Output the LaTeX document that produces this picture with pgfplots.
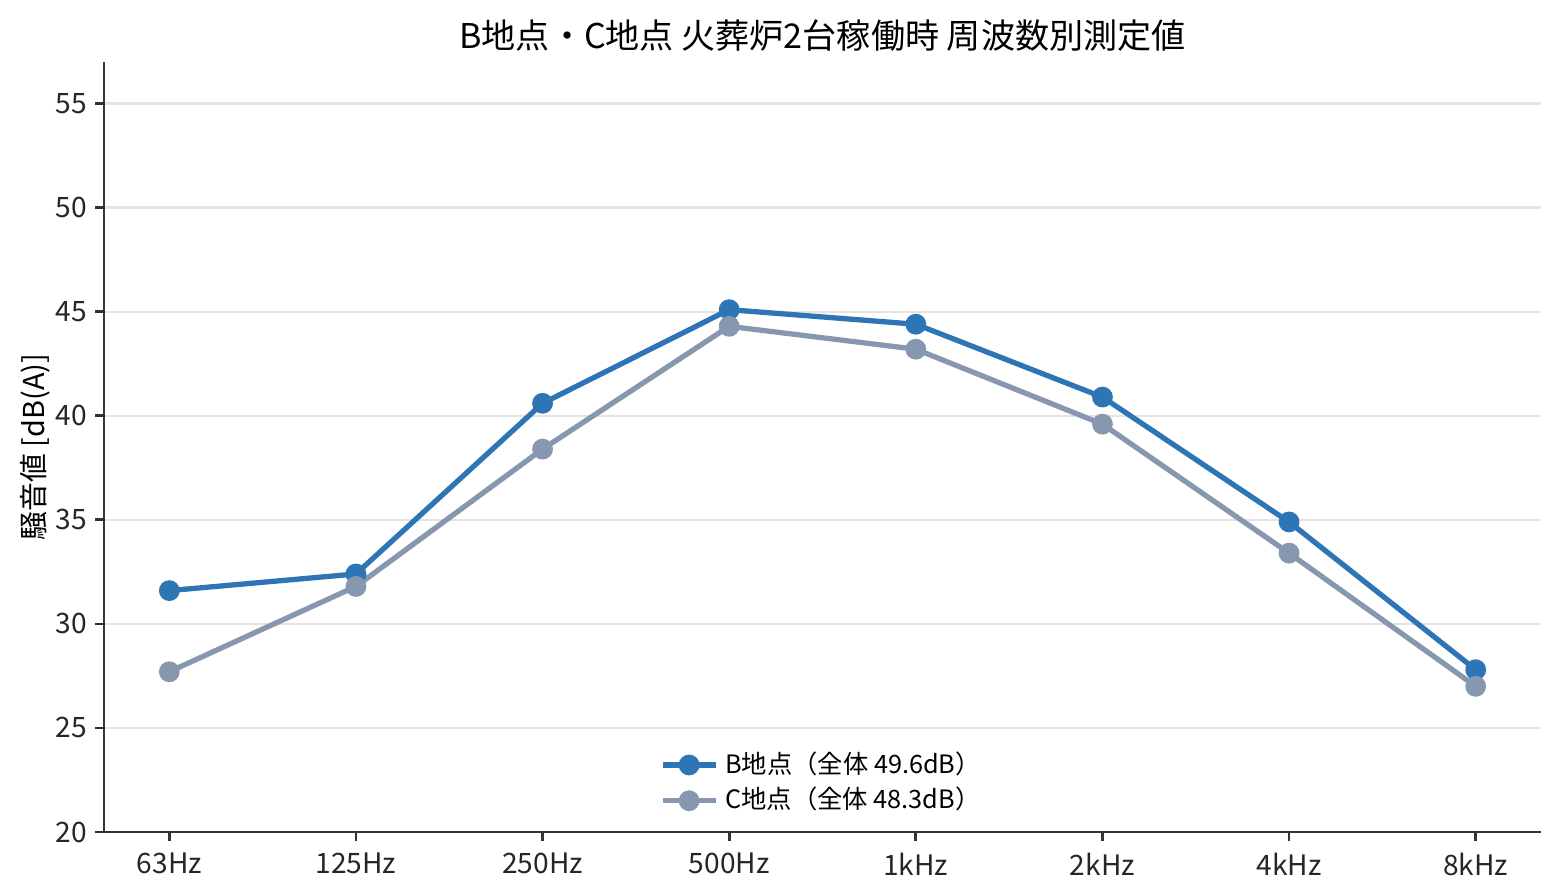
\documentclass[border=0pt]{standalone}
\usepackage{pgfplots}
\pgfplotsset{compat=1.18}
\usepackage{fontspec}
\setmainfont{Noto Sans CJK JP}
\definecolor{cB}{HTML}{2E75B6}
\definecolor{cC}{HTML}{8797B0}
\definecolor{gridc}{HTML}{E3E3E3}
\definecolor{axc}{HTML}{333333}
\begin{document}
\begin{tikzpicture}
\useasboundingbox (-10.4mm,-6.2mm) rectangle (145.6mm,83.2mm);
\begin{axis}[
  scale only axis,
  width=143.7mm, height=77mm,
  at={(0,0)}, anchor=south west,
  xmin=-0.35, xmax=7.35,
  ymin=20, ymax=57,
  xtick={0,1,2,3,4,5,6,7},
  xticklabels={63Hz,125Hz,250Hz,500Hz,1kHz,2kHz,4kHz,8kHz},
  ytick={20,25,30,35,40,45,50,55},
  axis x line*=bottom, axis y line*=left,
  axis line style={axc, line width=0.8pt, -},
  tick align=outside,
  major tick length=0.85mm,
  tick style={axc, line width=0.8pt},
  ymajorgrids,
  grid style={gridc, line width=0.7pt},
  /pgf/number format/assume math mode=true,
  ticklabel style={font=\fontsize{8}{9}\selectfont, text=black!85},
  yticklabel style={xshift=0.4mm},
  title={B地点・C地点 火葬炉2台稼働時 周波数別測定値},
  title style={at={(axis description cs:0.5,1)}, anchor=center, yshift=0.5mm, font=\fontsize{9.7}{11}\selectfont},
  ylabel={騒音値 [dB(A)]},
  ylabel style={at={(axis description cs:-0.048,0.5)}, anchor=center, font=\fontsize{8.2}{10}\selectfont},
  legend style={at={(axis description cs:0.501,0.004)}, anchor=south, draw=none, fill=none, font=\fontsize{7.2}{8.5}\selectfont, row sep=-1.5pt, legend cell align=left},
  legend image code/.code={\draw[mark repeat=2,mark phase=2] plot coordinates {(0cm,0cm)(0.265cm,0cm)(0.53cm,0cm)};},
]
\addplot[cB, line width=1.5pt, mark=*, mark size=2.2pt, mark options={solid, fill=cB, draw=cB}] coordinates {
(0,31.6) (1,32.4) (2,40.6) (3,45.1) (4,44.4) (5,40.9) (6,34.9) (7,27.8)};
\addlegendentry{B地点（全体 49.6dB）}
\addplot[cC, line width=1.5pt, mark=*, mark size=2.2pt, mark options={solid, fill=cC, draw=cC}] coordinates {
(0,27.7) (1,31.8) (2,38.4) (3,44.3) (4,43.2) (5,39.6) (6,33.4) (7,27.0)};
\addlegendentry{C地点（全体 48.3dB）}
\end{axis}
\end{tikzpicture}
\end{document}
